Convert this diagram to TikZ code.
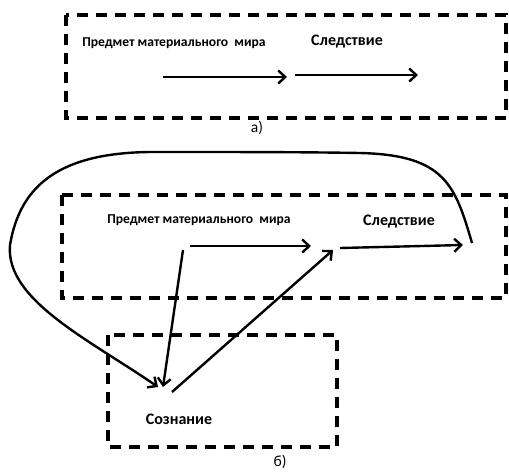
\documentclass[tikz,border=0pt]{standalone}
\usepackage{fontspec}
\setmainfont{Carlito}
\usetikzlibrary{arrows.meta}
\tikzset{
  frame/.style={draw=black, line width=3.4pt, dash pattern=on 11pt off 8pt},
  conn/.style={draw=black, line width=2.4pt, -{Straight Barb[length=7pt,width=13pt,line width=2.4pt]}},
  small/.style={font=\bfseries\fontsize{13.6}{15}\selectfont, inner sep=0pt},
  big/.style={font=\bfseries\fontsize{16}{18}\selectfont, inner sep=0pt},
  caption/.style={font=\fontsize{15.5}{17}\selectfont, inner sep=0pt}
}
\begin{document}
\begin{tikzpicture}[x=1pt, y=-1pt]
\useasboundingbox (0,0) rectangle (509,472);

% part a
\draw[frame] (66,15) rectangle (506,118);
\node[small] (objA) at (174,43) {Предмет материального\ \ мира};
\node[big] (effA) at (347,42) {Следствие};
\coordinate (a1) at (163,77);
\coordinate (a2) at (287,77);
\coordinate (a3) at (295,75);
\coordinate (a4) at (418,75);
\draw[conn] (a1) -- (a2);
\draw[conn] (a3) -- (a4);
\node[caption] (labA) at (257,128) {а)};

% part b
\draw[frame] (62,195) rectangle (506,298);
\draw[frame] (108,335) rectangle (337,447);
\node[small] (objB) at (199,220) {Предмет материального\ \ мира};
\node[big] (effB) at (399,222) {Следствие};
\node[big] (mind) at (179,419) {Сознание};
\node[caption] (labB) at (280,462) {б)};

\coordinate (b1) at (190,246);
\coordinate (b2) at (311,246);
\coordinate (b3) at (340,248);
\coordinate (b4) at (463,245);
\coordinate (d1) at (183,250);
\coordinate (d2) at (163,387);
\coordinate (u1) at (172,392);
\coordinate (u2) at (333,250);
\coordinate (c1) at (472,243);
\coordinate (c2) at (158,387);

\draw[conn] (b1) -- (b2);
\draw[conn] (b3) -- (b4);
\draw[conn] (d1) -- (d2);
\draw[conn] (u1) -- (u2);
\draw[conn] (c1) .. controls (455,185) and (445,155) .. (360,153)
  .. controls (300,152) and (250,152) .. (150,152)
  .. controls (60,153) and (20,185) .. (10,245)
  .. controls (5,300) and (90,340) .. (c2);
\end{tikzpicture}
\end{document}
